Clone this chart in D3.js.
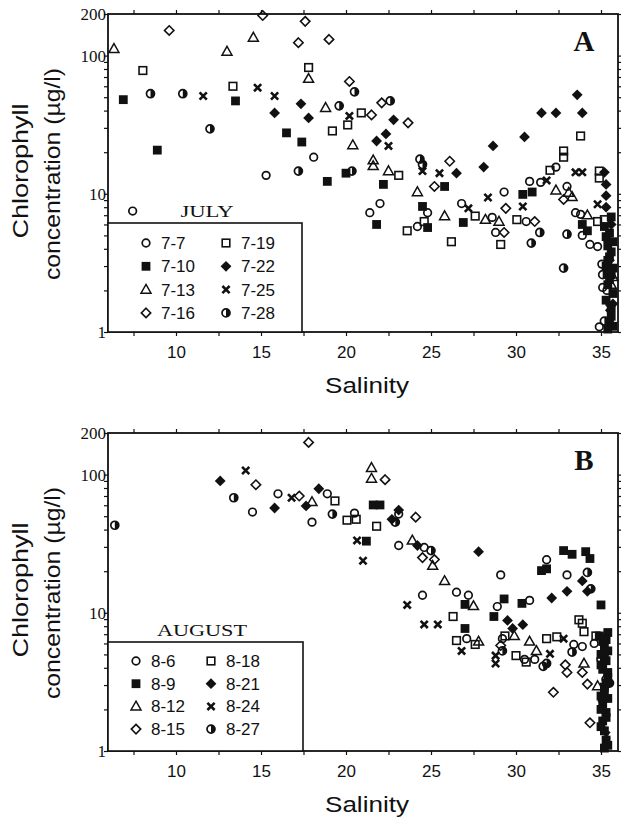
<!DOCTYPE html>
<html>
<head>
<meta charset="utf-8">
<script src="https://cdn.jsdelivr.net/npm/d3@7"></script>
<style>
body { margin: 0; background: #fff; }
</style>
</head>
<body>
<div id="chart"></div>
<script>
(function() {

const w = 622;
const h = 818;

// dates, in legend order (first column then second column)
const julyDates = ["7-7", "7-10", "7-13", "7-16", "7-19", "7-22", "7-25", "7-28"];
const augustDates = ["8-6", "8-9", "8-12", "8-15", "8-18", "8-21", "8-24", "8-27"];

// [salinity, chlorophyll ug/l]
const jul07 = [[7.45,7.5],[15.3,13.6],[18.1,18.4],[21.4,7.3],[22.0,8.5],[24.2,5.8],[24.8,7.3],[26.8,8.5],[28.6,6.75],[28.8,5.25],[29.3,10.3],[30.6,6.3],[30.8,12.3],[31.45,12.1],[32.35,15.6],[33.0,11.3],[33.5,7.3],[33.8,7.1],[33.9,5.0],[34.35,4.3],[34.8,4.15],[35.05,3.1],[35.1,2.1],[35.35,2.0],[34.9,1.09]];
const jul10 = [[6.9,48],[8.9,20.7],[13.5,47],[16.5,27.6],[17.4,23.7],[18.9,12.3],[20.0,14.1],[22.2,11.7],[21.8,6.0],[24.5,8.1],[24.8,5.7],[25.8,11.3],[26.9,6.2],[30.4,9.9],[30.95,10.3],[33.9,6.0],[34.2,5.4],[35.2,5.8],[35.3,4.9],[35.4,4.2],[35.5,3.5],[35.3,3.0],[35.6,2.6],[35.4,2.2],[35.7,1.9],[35.6,1.5],[35.5,1.2],[35.7,1.1],[35.6,6.8],[35.5,5.2],[35.7,4.5],[35.6,3.8],[35.4,3.3],[35.7,2.9],[35.5,2.4],[35.3,1.7],[35.6,1.3],[35.4,1.05]];
const jul13 = [[6.35,112],[13.0,107],[14.55,135],[17.8,68],[18.8,41.9],[20.4,22.5],[21.6,17.5],[21.6,15.9],[22.5,14.6],[24.2,10.3],[25.8,6.9],[28.2,6.5],[29.0,6.3],[32.35,10.6],[33.1,10.2],[33.3,9.5],[34.2,7.0],[35.7,2.5],[35.6,2.2]];
const jul16 = [[9.6,152],[15.1,195],[17.2,124],[17.6,177],[19.0,131],[20.2,65],[21.5,37.2],[22.1,45.5],[23.65,32.6],[26.1,17.2],[25.2,11.3],[29.4,7.85],[29.3,5.25],[31.1,6.3],[32.8,9.1]];
const jul19 = [[8.05,78],[13.35,60],[17.8,82],[19.2,28.5],[20.1,31.5],[20.9,38.5],[23.1,13.6],[23.6,5.4],[24.6,6.3],[26.2,4.5],[27.6,6.9],[29.1,4.3],[30.05,6.5],[32.0,14.8],[32.8,20.4],[32.8,18.4],[33.8,26.2],[34.9,14.6],[34.9,13.0],[34.8,6.3],[35.2,6.5]];
const jul22 = [[15.8,38.5],[17.35,44.8],[17.8,35.4],[21.8,24.1],[22.35,27.1],[22.8,34.3],[26.5,14.1],[28.1,15.6],[28.65,22.2],[30.5,25.8],[31.5,38.5],[32.35,38.5],[33.6,52],[33.9,38.5],[35.2,14.3],[35.3,11.7],[35.3,9.7],[35.3,8.0],[35.4,4.6],[35.5,3.3],[35.6,6.0],[35.5,2.8],[35.7,1.6]];
const jul25 = [[11.6,51],[14.8,58.6],[15.8,51],[20.2,36.6],[22.5,22.2],[24.5,14.6],[25.5,14.1],[27.2,7.85],[28.35,9.4],[30.4,8.1],[31.8,12.5],[33.5,14.3],[33.9,14.3],[34.8,8.4],[35.5,1.5]];
const jul28 = [[8.5,53],[10.4,53],[12.0,29.5],[17.2,14.6],[19.6,43.3],[20.35,14.6],[20.5,54.7],[22.6,47],[24.35,17.8],[24.5,16.3],[30.9,4.4],[31.4,5.25],[33.0,5.1],[32.8,2.9],[35.1,2.6],[35.2,1.2]];

const aug06 = [[14.5,53.6],[16.0,72.6],[18.0,45.3],[18.9,72.6],[20.5,52.6],[23.1,51.8],[23.1,30.7],[24.6,29.7],[24.5,13.4],[26.5,14.1],[27.2,13.4],[29.1,18.8],[28.9,11.1],[30.8,12.3],[31.8,24.2],[33.0,18.8],[29.2,6.5],[27.1,6.5],[30.5,4.6],[31.1,4.6],[33.4,5.9],[33.9,5.7],[34.6,6.0]];
const aug09 = [[21.2,33],[21.6,60.3],[22.0,60.3],[27.0,11.5],[27.0,7.7],[28.7,9.4],[29.3,12.6],[30.35,11.7],[31.5,20.2],[31.8,20.8],[32.8,28.2],[33.3,26.5],[34.1,27.7],[34.35,24.7],[35.0,11.4],[34.9,6.8],[35.1,6.2],[35.2,5.6],[35.0,5.0],[35.3,4.5],[35.1,3.9],[35.4,3.4],[35.2,2.9],[35.0,2.5],[35.1,2.2],[35.3,1.9],[35.1,1.65],[35.2,1.4],[35.3,1.2],[35.2,1.05],[35.4,7.2],[35.3,6.4],[35.4,5.3],[35.2,4.8],[35.0,4.2],[35.4,3.7],[35.3,3.1],[35.2,2.7],[35.4,2.4],[35.0,2.0],[35.3,1.75],[35.0,1.5],[35.4,1.1]];
const aug12 = [[18.0,63.4],[21.5,112],[21.5,93.5],[23.9,33.4],[25.1,21.9],[25.8,17.0],[27.5,11.2],[27.8,6.2],[29.9,6.8],[30.8,6.2],[31.2,5.3],[34.0,4.3],[34.8,2.95]];
const aug15 = [[14.7,84.5],[17.25,70],[17.8,171],[22.3,91.9],[24.1,49.2],[24.5,25.1],[25.2,24.3],[29.1,5.8],[32.2,2.66],[32.9,4.2],[33.0,3.7],[33.9,3.7],[34.2,3.05],[34.35,1.6]];
const aug18 = [[19.35,64.5],[20.06,46.8],[20.6,47.5],[21.8,42.3],[26.3,9.4],[26.5,6.3],[27.6,5.9],[29.35,6.8],[30.0,4.9],[30.6,4.4],[31.8,6.5],[32.4,6.7],[33.7,8.9],[33.9,8.4],[34.0,7.3],[34.7,6.8]];
const aug21 = [[12.6,90],[15.8,57.3],[17.65,59.3],[18.4,79],[22.7,47.5],[23.1,55.4],[24.2,30.7],[27.8,27.7],[29.5,8.8],[30.4,8.2],[29.8,7.7],[32.1,12.8],[33.0,14.3],[33.9,17.0],[34.2,14.3],[35.2,6.6],[35.1,2.3]];
const aug24 = [[14.1,107],[16.8,68],[20.65,33.4],[21.0,23.8],[23.6,11.4],[24.6,8.24],[25.4,8.24],[26.8,5.3],[28.8,4.9],[28.8,4.3],[32.0,5.05],[32.8,6.5],[35.3,1.3]];
const aug27 = [[6.4,43],[13.4,68],[19.2,51.8],[22.9,45.3],[25.0,28.2],[29.2,5.3],[31.6,4.1],[31.8,4.3],[33.3,5.2],[34.2,19.6],[34.4,14.9],[35.3,3.3],[35.5,3.1],[35.0,4.6]];

const julySeries = [jul07, jul10, jul13, jul16, jul19, jul22, jul25, jul28];
const augustSeries = [aug06, aug09, aug12, aug15, aug18, aug21, aug24, aug27];

const xTickLabels = [10, 15, 20, 25, 30, 35];
const xMinorTicks = [7.5, 12.5, 17.5, 22.5, 27.5, 32.5];
const yTickLabels = [1, 10, 100, 200];
const yMinorTicks = [2, 3, 4, 5, 6, 7, 8, 9, 20, 30, 40, 50, 60, 70, 80, 90];

// marker per legend slot
const markerTypes = ["circle", "fsquare", "triangle", "diamond", "square", "fdiamond", "cross", "half"];

const ink = "#111";
const sans = "'Liberation Sans', Arial, sans-serif";
const serif = "'Liberation Serif', 'Times New Roman', serif";

const svg = d3.select("#chart")
    .append("svg")
    .attr("width", w)
    .attr("height", h)
    .style("background", "#fff");

const x = d3.scaleLinear().domain([6, 36]).range([108, 618]);

function addMarker(g, type) {
    if (type == "circle") {
        g.append("circle").attr("r", 3.8).attr("fill", "none").attr("stroke", ink).attr("stroke-width", 1.7);
    } else if (type == "square") {
        g.append("rect").attr("x", -3.8).attr("y", -3.8).attr("width", 7.6).attr("height", 7.6)
            .attr("fill", "none").attr("stroke", ink).attr("stroke-width", 1.6);
    } else if (type == "fsquare") {
        g.append("rect").attr("x", -4.4).attr("y", -4.4).attr("width", 8.8).attr("height", 8.8).attr("fill", ink);
    } else if (type == "triangle") {
        g.append("path").attr("d", "M0,-5.2L5,3.6L-5,3.6Z")
            .attr("fill", "none").attr("stroke", ink).attr("stroke-width", 1.5);
    } else if (type == "diamond") {
        g.append("path").attr("d", "M0,-4.7L4.7,0L0,4.7L-4.7,0Z")
            .attr("fill", "none").attr("stroke", ink).attr("stroke-width", 1.6);
    } else if (type == "fdiamond") {
        g.append("path").attr("d", "M0,-5.4L5.4,0L0,5.4L-5.4,0Z").attr("fill", ink);
    } else if (type == "cross") {
        g.append("path").attr("d", "M-3.6,-3.6L3.6,3.6M3.6,-3.6L-3.6,3.6")
            .attr("stroke", ink).attr("stroke-width", 2.6).attr("fill", "none");
    } else if (type == "half") {
        g.append("path").attr("d", "M0,-4A4,4 0 0,1 0,4Z").attr("fill", ink);
        g.append("circle").attr("r", 4).attr("fill", "none").attr("stroke", ink).attr("stroke-width", 1.7);
    }
}

function drawPanel(cfg) {
    const y = d3.scaleLog().domain([1, 200]).range([cfg.bottom, cfg.top]);
    const g = svg.append("g");

    // axes, ticks outward on all four sides
    const xb = d3.axisBottom(x).tickValues(xTickLabels.concat(xMinorTicks)).tickSizeInner(4).tickSizeOuter(0)
        .tickPadding(10).tickFormat(function(d) { return xTickLabels.indexOf(d) >= 0 ? d : ""; });
    const xt = d3.axisTop(x).tickValues(xTickLabels.concat(xMinorTicks)).tickSizeInner(4).tickSizeOuter(0)
        .tickFormat("");
    const yl = d3.axisLeft(y).tickValues(yTickLabels.concat(yMinorTicks)).tickSizeInner(4).tickSizeOuter(0)
        .tickPadding(-2).tickFormat(function(d) { return yTickLabels.indexOf(d) >= 0 ? d : ""; });
    const yr = d3.axisRight(y).tickValues(yTickLabels.concat(yMinorTicks)).tickSizeInner(3).tickSizeOuter(0)
        .tickFormat("");

    g.append("g").attr("transform", "translate(0," + cfg.bottom + ")").call(xb)
        .call(function(a) {
            a.selectAll("text").style("font-family", sans).style("font-size", "17px").attr("fill", ink);
        });
    g.append("g").attr("transform", "translate(0," + cfg.top + ")").call(xt);
    g.append("g").attr("transform", "translate(108,0)").call(yl)
        .call(function(a) {
            a.selectAll("text").style("font-family", serif).style("font-size", "17px").attr("fill", ink);
        });
    g.append("g").attr("transform", "translate(618,0)").call(yr);
    g.selectAll(".domain").remove();
    g.selectAll(".tick line").attr("stroke", ink).attr("stroke-width", 1.2);

    g.append("rect")
        .attr("x", 108).attr("y", cfg.top)
        .attr("width", 510).attr("height", cfg.bottom - cfg.top)
        .attr("fill", "none").attr("stroke", ink).attr("stroke-width", 1.8);

    // points
    cfg.series.forEach(function(data, i) {
        g.append("g").selectAll("g")
            .data(data)
            .enter()
            .append("g")
            .attr("transform", function(d) { return "translate(" + x(d[0]) + "," + y(d[1]) + ")"; })
            .each(function() { addMarker(d3.select(this), markerTypes[i]); });
    });

    // legend
    const lg = g.append("g");
    lg.append("rect")
        .attr("x", 108).attr("y", cfg.legTop)
        .attr("width", cfg.legRight - 108).attr("height", cfg.bottom - cfg.legTop)
        .attr("fill", "#fff").attr("stroke", ink).attr("stroke-width", 1.6);
    lg.append("text")
        .attr("x", cfg.titleX).attr("y", cfg.legTop - 6)
        .attr("text-anchor", "middle")
        .attr("textLength", cfg.titleLen).attr("lengthAdjust", "spacingAndGlyphs")
        .style("font-family", serif).style("font-size", "17px").attr("fill", ink)
        .text(cfg.title);
    cfg.dates.forEach(function(lab, i) {
        const col = Math.floor(i / 4);
        const row = i % 4;
        const sx = cfg.legCols[col];
        const sy = cfg.legRow0 + row * cfg.legStep;
        const m = lg.append("g").attr("transform", "translate(" + sx + "," + sy + ")");
        addMarker(m, markerTypes[i]);
        lg.append("text")
            .attr("x", sx + 15).attr("y", sy + 6)
            .style("font-family", sans).style("font-size", "17px").attr("fill", ink)
            .text(lab);
    });

    // panel letter
    g.append("text")
        .attr("x", 584).attr("y", cfg.top + 37)
        .attr("text-anchor", "middle")
        .style("font-family", serif).style("font-weight", "bold").style("font-size", "29px").attr("fill", ink)
        .text(cfg.letter);

    // axis titles
    g.append("text")
        .attr("x", 367).attr("y", cfg.bottom + 61)
        .attr("text-anchor", "middle")
        .attr("textLength", 84).attr("lengthAdjust", "spacingAndGlyphs")
        .style("font-family", sans).style("font-size", "22px").attr("fill", ink)
        .text("Salinity");
    g.append("text")
        .attr("transform", "translate(28," + (cfg.bottom - 161) + ") rotate(-90)")
        .attr("text-anchor", "middle")
        .attr("textLength", 135).attr("lengthAdjust", "spacingAndGlyphs")
        .style("font-family", sans).style("font-size", "22px").attr("fill", ink)
        .text("Chlorophyll");
    g.append("text")
        .attr("transform", "translate(60," + (cfg.bottom - 158) + ") rotate(-90)")
        .attr("text-anchor", "middle")
        .attr("textLength", 212).attr("lengthAdjust", "spacingAndGlyphs")
        .style("font-family", sans).style("font-size", "22px").attr("fill", ink)
        .text("concentration (\u00b5g/l)");
}

drawPanel({
    top: 14, bottom: 332, series: julySeries, dates: julyDates, letter: "A",
    title: "JULY", titleX: 207, titleLen: 53,
    legTop: 223, legRight: 302, legCols: [146, 226], legRow0: 243, legStep: 23.3
});

drawPanel({
    top: 433, bottom: 751, series: augustSeries, dates: augustDates, letter: "B",
    title: "AUGUST", titleX: 202, titleLen: 90,
    legTop: 642, legRight: 303, legCols: [136, 211], legRow0: 661, legStep: 22.7
});

})();
</script>
</body>
</html>
